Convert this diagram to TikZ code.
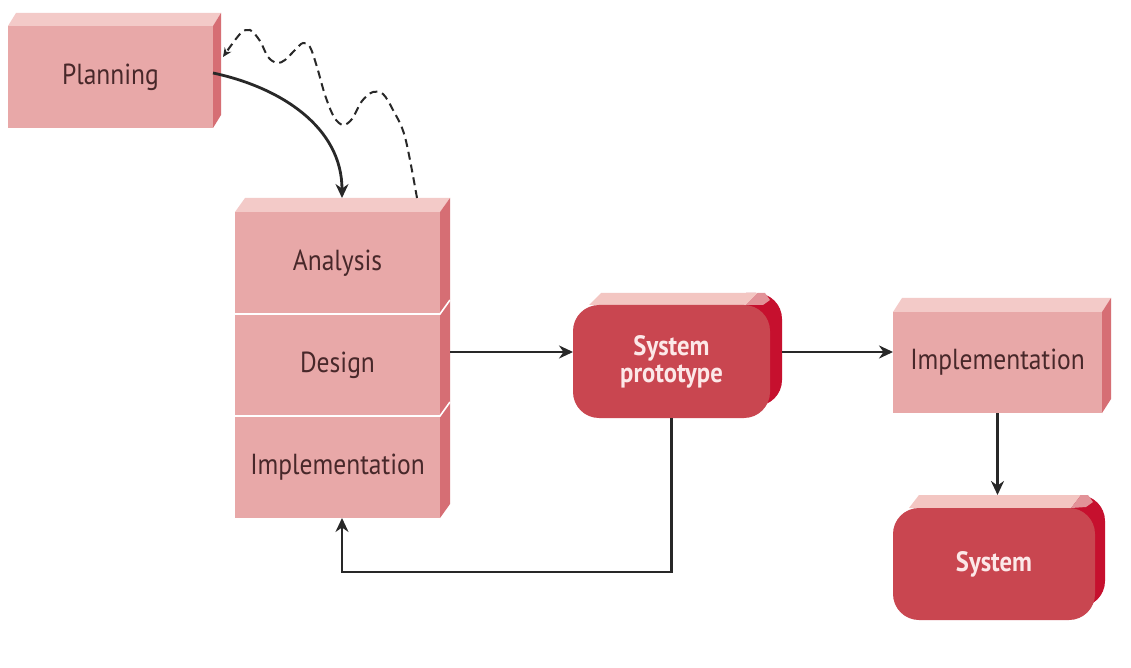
\documentclass[tikz,border=0pt]{standalone}
\usepackage{fontspec}
\setmainfont{PT Sans}[FakeStretch=0.88]
\usetikzlibrary{%
    positioning,
    arrows.meta,
    backgrounds
}

\definecolor{slabfront}{RGB}{232,168,168}
\definecolor{slabtop}{RGB}{243,202,200}
\definecolor{slabside}{RGB}{214,110,116}
\definecolor{slabtext}{RGB}{72,40,42}
\definecolor{pillfront}{RGB}{201,70,80}
\definecolor{pillside}{RGB}{198,16,46}
\definecolor{pilltop}{RGB}{243,198,194}
\definecolor{pillcorner}{RGB}{226,146,152}
\definecolor{pilltext}{RGB}{252,232,232}
\definecolor{linkgray}{RGB}{40,40,40}

\tikzset{
    slab/.style = {
        rectangle, fill=slabfront, text=slabtext,
        font=\fontsize{29}{31}\selectfont,
        inner sep=0pt, outer sep=0pt,
        minimum width = 205pt,
        minimum height = 102pt
    },
    pill/.style = {
        rectangle, rounded corners=26pt, fill=pillfront, text=pilltext,
        font=\bfseries\fontsize{28}{30}\selectfont, align=center,
        inner sep=0pt, outer sep=0pt
    },
    link/.style = {
        draw=linkgray, line width=2.8pt,
        -{Stealth[length=14pt,width=13pt]}
    },
    loopback/.style = {
        draw=linkgray, line width=2pt, dash pattern=on 8pt off 5pt,
        -{Stealth[length=9pt,width=8pt]}
    }
}

% top and right faces of a slab: node, dx, dy
\newcommand{\slabtop}[3]{%
    \fill[slabtop] (#1.north west) -- (#1.north east) -- ++(#2,#3)
        -- ([shift={(#2,#3)}]#1.north west) -- cycle;}
\newcommand{\slabside}[3]{%
    \fill[slabside] (#1.north east) -- ++(#2,#3)
        -- ([shift={(#2,#3)}]#1.south east) -- (#1.south east) -- cycle;}
% dark rounded side of a pill, then its top band
\newcommand{\pillfaces}[3]{%
    \begin{scope}
        \clip ([shift={(-24,#3)}]#1.north east) rectangle ([xshift=#2+1]#1.south east);
        \fill[pillside, rounded corners=26pt] ([shift={(#2,#3)}]#1.south west)
            rectangle ([shift={(#2,#3)}]#1.north east);
    \end{scope}
    \fill[pilltop] ([xshift=16pt]#1.north west) -- ([xshift=-24pt]#1.north east)
        -- ++(#2,#3) -- ([shift={(16+#2,#3)}]#1.north west) -- cycle;
    \fill[pillcorner] ([xshift=-24pt]#1.north east) -- ++(#2,#3) -- ++(7,0)
        -- ++(5,-7) -- ++(-7,-5) -- cycle;}

\begin{document}
\begin{tikzpicture}[x=1pt, y=1pt]
    \useasboundingbox (0,0) rectangle (1131,667);

    \node[slab] (planning) at (110.5,590) {Planning};

    \node[slab] (analysis) at (337.5,404) {Analysis};
    \node[
        slab,
        below=0pt of analysis
    ] (design) {Design};
    \node[
        slab,
        below=0pt of design
    ] (implA) {Implementation};

    \node[
        pill,
        minimum width = 197pt,
        minimum height = 113pt
    ] (proto) at (671.5,305.5) {System\\[-3pt]prototype};

    \node[
        slab,
        minimum width = 209pt,
        minimum height = 101pt
    ] (implB) at (997.5,304.5) {Implementation};

    \node[
        pill,
        minimum width = 202pt,
        minimum height = 112pt
    ] (system) at (994,103) {System};

    \begin{pgfonlayer}{background}
        \fill[white] (0,0) rectangle (1131,667);
        \slabtop{planning}{8}{13}
        \slabside{planning}{8}{13}
        \slabtop{analysis}{10}{14}
        \slabside{analysis}{10}{14}
        \slabside{design}{10}{14}
        \slabside{implA}{10}{14}
        \slabtop{implB}{9}{14}
        \slabside{implB}{9}{14}
        \pillfaces{proto}{12}{12}
        \pillfaces{system}{10}{13}
    \end{pgfonlayer}

    % seams between the stacked phases
    \draw[white, line width=1.6pt] (analysis.south west) -- (analysis.south east) -- ++(10,14);
    \draw[white, line width=1.6pt] (design.south west) -- (design.south east) -- ++(10,14);

    % connectors
    \coordinate (stacktop) at ([shift={(4.5,14)}]analysis.north);
    \coordinate (stackbase) at ([xshift=4.5]implA.south);
    \draw[link] ([yshift=4]planning.east) to[out=-12, in=90] (stacktop);
    \draw[loopback] plot[smooth, tension=0.55] coordinates {
        ([shift={(-23,14)}]analysis.north east)
        (405,530) (393,557) (383,573) (373,575) (362,566) (352,548)
        (343,542) (334,550) (325,572) (317,600) (310,620) (303,624)
        (295,617) (285,607) (277,604) (268,610) (260,626) (250,637)
        (240,633) ([shift={(10,-31)}]planning.north east)
    };

    \coordinate (dout) at ([shift={(10,13)}]design.east);
    \draw[link] (dout) -- (dout -| proto.west);
    \coordinate (pout) at ([shift={(12,9.5)}]proto.east);
    \draw[link] (pout) -- (pout -| implB.west);
    \draw[link] (proto.south) -- ++(0,-154) -| (stackbase);
    \draw[link] (implB.south) -- ([yshift=13]implB.south |- system.north);
\end{tikzpicture}
\end{document}
